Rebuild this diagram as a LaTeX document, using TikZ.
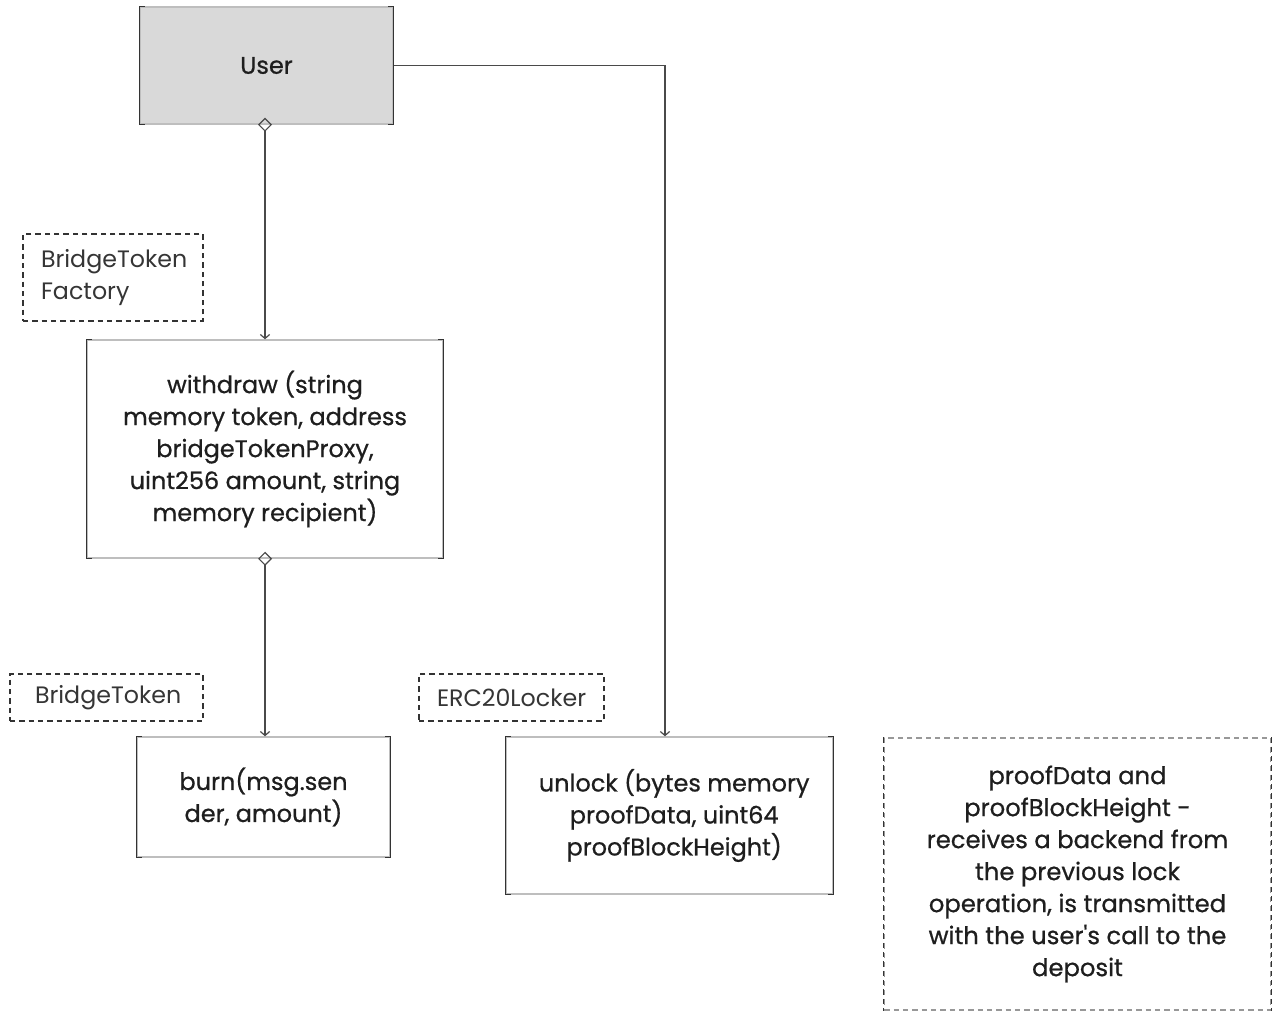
\documentclass[tikz,border=0pt]{standalone}
\usepackage{fontspec}
\setmainfont{Poppins}
\newfontfamily\medfont{Poppins}[FakeBold=0.7]
\usetikzlibrary{arrows.meta,calc}
\definecolor{boxline}{HTML}{BEBEBE}
\definecolor{bracket}{HTML}{333333}
\definecolor{conncol}{HTML}{4A4A4A}
\definecolor{txt}{HTML}{1E1E1E}
\definecolor{userfill}{HTML}{D9D9D9}
\tikzset{
  x=0.75pt,y=-0.75pt,
  fbox/.style={draw=boxline,line width=1.1pt,inner sep=0pt,align=center,
    font=\medfont\fontsize{18}{24}\selectfont,text=txt},
  dbox/.style={draw=bracket,dashed,dash pattern=on 4pt off 3pt,line width=0.9pt,
    inner xsep=13.5pt,inner ysep=0pt,align=left,
    font=\fontsize{17.8}{24}\selectfont,text=txt!90},
  note/.style={draw=boxline!80!black,dash pattern=on 4pt off 3pt,line width=0.9pt,
    inner sep=0pt,align=center,font=\medfont\fontsize{18.2}{24}\selectfont,text=txt},
  brk/.style={draw=bracket,line width=1.1pt},
  conn/.style={draw=conncol,line width=0.9pt,
    {Diamond[open,length=10.5pt,width=10.5pt,line width=0.9pt]}-{Straight Barb[length=3pt,width=7pt]},
    shorten <=-5.25pt},
  conn2/.style={draw=conncol,line width=0.9pt,-{Straight Barb[length=3pt,width=7pt]}},
}
\newcommand{\brackets}[1]{%
  \draw[brk] ([xshift=4pt]#1.north west) -- (#1.north west) -- (#1.south west) -- ([xshift=4pt]#1.south west);
  \draw[brk] ([xshift=-4pt]#1.north east) -- (#1.north east) -- (#1.south east) -- ([xshift=-4pt]#1.south east);}
\begin{document}
\begin{tikzpicture}
\useasboundingbox (0,0) rectangle (1273,1011);
% main boxes
\node[fbox,fill=userfill,minimum width=189.75pt,minimum height=87.75pt] (user) at (266.5,65.5) {User};
\node[fbox,minimum width=267pt,minimum height=163.5pt] (withdraw) at (265,449)
  {withdraw (string\\memory token, address\\bridgeTokenProxy,\\uint256 amount, string\\memory recipient)};
\node[fbox,minimum width=189.75pt,minimum height=90pt] (burn) at (263.5,797)
  {burn(msg.sen\\der, amount)};
\node[fbox,minimum width=245.25pt,minimum height=117.75pt] (unlock) at (669.5,815.5)
  {\hspace*{7pt}unlock (bytes memory\\\hspace*{7pt}proofData, uint64\\\hspace*{7pt}proofBlockHeight)};
\brackets{user}
\brackets{withdraw}
\brackets{burn}
\brackets{unlock}
% dashed labels
\node[dbox,minimum width=135pt,minimum height=65.25pt,text width=108pt] (btf) at (113,277.5)
  {BridgeToken\\Factory};
\node[dbox,inner xsep=18.75pt,minimum width=144.75pt,minimum height=35.25pt,text width=107.25pt] (bt) at (106.5,697.5)
  {BridgeToken};
\node[dbox,minimum width=138.75pt,minimum height=35.25pt,text width=111.75pt] (erc) at (511.5,697.5)
  {ERC20Locker};
% note
\node[note,minimum width=290pt,minimum height=204pt] (nt) at (1077.5,874)
  {proofData and\\proofBlockHeight -\\receives a backend from\\the previous lock\\operation, is transmitted\\with the user{\char"27}s call to the\\deposit};
\draw[draw=bracket,line width=0.9pt,dash pattern=on 4pt off 3pt] (nt.north west) -- (nt.south west);
\draw[draw=bracket,line width=0.9pt,dash pattern=on 4pt off 3pt] (nt.north east) -- (nt.south east);
% connectors
\draw[conn] (withdraw.north |- user.south) -- (withdraw.north);
\draw[conn] (withdraw.south) -- (withdraw.south |- burn.north);
\coordinate (ut) at ($(unlock.north)+(-3.4pt,0)$);
\draw[conn2] (user.east) -| (ut);
\end{tikzpicture}
\end{document}
